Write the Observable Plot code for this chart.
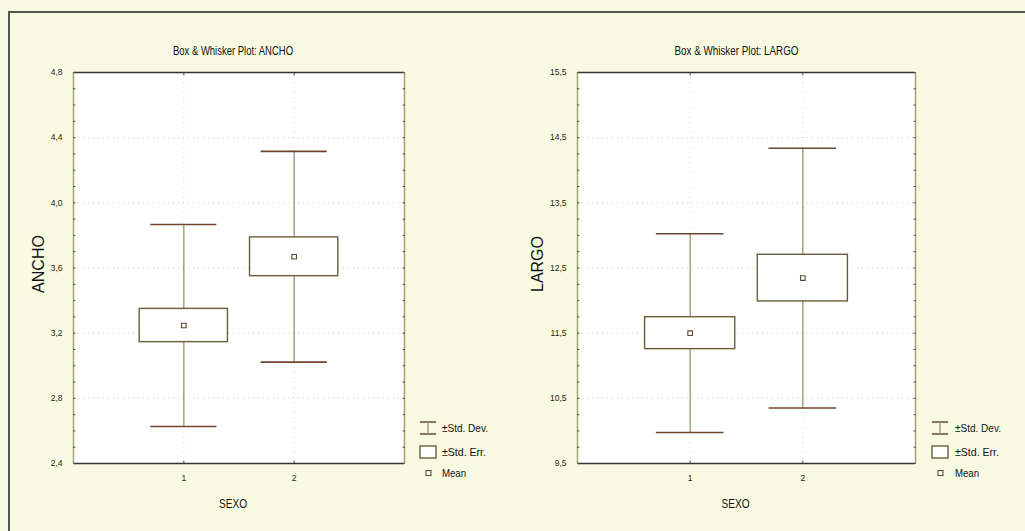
<!DOCTYPE html>
<html>
<head>
<meta charset="utf-8">
<script src="https://cdn.jsdelivr.net/npm/d3@7"></script>
<script src="https://cdn.jsdelivr.net/npm/@observablehq/plot@0.6"></script>
<style>
  html, body { margin: 0; padding: 0; }
  #page { position: relative; width: 1025px; height: 531px; background: #f8fae2; overflow: hidden; }
  #outer { position: absolute; left: 8px; top: 11px; width: 1030px; height: 540px; border-top: 2px solid #555; border-left: 2px solid #555; box-sizing: border-box; }
  .panel { position: absolute; top: 0; }
  .legend { position: absolute; }
</style>
</head>
<body>
<div id="page"><div id="outer"></div></div>
<script>
// ---- data ----
const sexo = [1, 2];
const anchoMean = [3.247, 3.669];
const anchoSE = [0.102, 0.119];
const anchoSD = [0.620, 0.647];
const largoMean = [11.50, 12.345];
const largoSE = [0.245, 0.358];
const largoSD = [1.525, 1.993];
const anchoTicks = [2.4, 2.8, 3.2, 3.6, 4.0, 4.4, 4.8];
const largoTicks = [9.5, 10.5, 11.5, 12.5, 13.5, 14.5, 15.5];
const legendLabels = ["±Std. Dev.", "±Std. Err.", "Mean"];

const narrow = "'Liberation Sans Narrow', 'Arial Narrow', 'Liberation Sans', sans-serif";
const wide = "'Liberation Sans', Arial, sans-serif";
const fmt = d => d.toFixed(1).replace(".", ",");
const stem = "#8e8e60", cap = "#6f4630", boxStroke = "#6c5c3a";

function squeeze(svg, content, len) {
  d3.select(svg).selectAll("text").filter(function () { return this.textContent === content; })
    .attr("textLength", len).attr("lengthAdjust", "spacingAndGlyphs");
}

function panel(opts) {
  const {title, yLabel, means, ses, sds, ticks, left, width, ml, mr, titleDx, sexoDx} = opts;
  const table = sexo.map((s, i) => ({sexo: s, mean: means[i], se: ses[i], sd: sds[i]}));
  const step = (ticks[1] - ticks[0]) / 4;
  const minor = d3.range(0, (ticks.length - 1) * 4 + 1).map(k => ticks[0] + k * step);
  const lo = ticks[0], hi = ticks[ticks.length - 1];
  const plot = Plot.plot({
    width, height: 531,
    marginLeft: ml, marginRight: mr, marginTop: 72, marginBottom: 68,
    style: {background: "transparent", fontFamily: narrow, color: "#222"},
    x: {domain: [0, 3]},
    y: {domain: [lo, hi]},
    marks: [
      Plot.frame({fill: "white", stroke: null}),
      Plot.gridY(ticks.slice(1, -1), {stroke: "#888", strokeOpacity: 0.45, strokeDasharray: "1,4"}),
      Plot.gridX(sexo, {stroke: "#888", strokeOpacity: 0.3, strokeDasharray: "1,4"}),
      Plot.ruleX([0, 3], {stroke: "#a3a36c", strokeWidth: 1.5}),
      Plot.ruleY([lo, hi], {stroke: "#333", strokeWidth: 1.6}),
      Plot.ruleX(table, {x: "sexo", y1: d => d.mean - d.sd, y2: d => d.mean + d.sd, stroke: stem, strokeWidth: 1.2}),
      Plot.ruleY(table, {y: d => d.mean + d.sd, x1: d => d.sexo - 0.3, x2: d => d.sexo + 0.3, stroke: cap, strokeWidth: 1.6}),
      Plot.ruleY(table, {y: d => d.mean - d.sd, x1: d => d.sexo - 0.3, x2: d => d.sexo + 0.3, stroke: cap, strokeWidth: 1.6}),
      Plot.rect(table, {x1: d => d.sexo - 0.4, x2: d => d.sexo + 0.4, y1: d => d.mean - d.se, y2: d => d.mean + d.se, fill: "white", stroke: boxStroke, strokeWidth: 1.4}),
      Plot.dot(table, {x: "sexo", y: "mean", symbol: "square", r: 2.6, stroke: "#5a4a30", fill: "white", strokeWidth: 1.1}),
      Plot.axisY(ticks, {anchor: "left", tickSize: 0, tickPadding: 11, tickFormat: fmt, fontSize: 8.5, label: null}),
      Plot.axisY(minor, {anchor: "left", tickSize: -2.5, tickFormat: () => "", stroke: "#555", label: null}),
      Plot.axisY(minor, {anchor: "right", tickSize: -2.5, tickFormat: () => "", stroke: "#555", label: null}),
      Plot.axisX(sexo, {anchor: "bottom", tickSize: 0, tickPadding: 11, tickFormat: d => String(d), fontSize: 8.5, label: null}),
      Plot.axisX(sexo, {anchor: "bottom", tickSize: -2.5, tickFormat: () => "", stroke: "#555", label: null}),
      Plot.axisX(sexo, {anchor: "top", tickSize: -2.5, tickFormat: () => "", stroke: "#555", label: null}),
      Plot.text([title], {frameAnchor: "top", dy: -26, dx: titleDx, fontSize: 12, fill: "#111", fontFamily: narrow}),
      Plot.text(["SEXO"], {frameAnchor: "bottom", dy: 44, dx: sexoDx, fontSize: 13, fill: "#111", fontFamily: narrow}),
      Plot.text([yLabel], {frameAnchor: "left", textAnchor: "middle", dx: -ml + opts.yLabelX, dy: -4, rotate: -90, fontSize: 16, fill: "#111", fontFamily: wide})
    ]
  });
  squeeze(plot, title, opts.titleLen);
  squeeze(plot, "SEXO", 28);
  const wrap = document.createElement("div");
  wrap.className = "panel";
  wrap.style.left = left + "px";
  wrap.appendChild(plot);
  document.getElementById("page").appendChild(wrap);
}

function legend(x, textX) {
  const div = d3.select("#page").append("div").attr("class", "legend")
    .style("left", (x - 2) + "px").style("top", "415px");
  const svg = div.append("svg").attr("width", 90).attr("height", 70)
    .style("font-family", narrow).style("font-size", "11px");
  const ox = 2, oy = 415;
  const rows = [428, 452, 473].map(y => y - oy);
  const g0 = svg.append("g").attr("fill", "none").attr("stroke", cap).attr("stroke-width", 1.5);
  g0.append("line").attr("x1", ox).attr("x2", ox + 16).attr("y1", rows[0] - 6).attr("y2", rows[0] - 6);
  g0.append("line").attr("x1", ox).attr("x2", ox + 16).attr("y1", rows[0] + 6).attr("y2", rows[0] + 6);
  g0.append("line").attr("x1", ox + 8).attr("x2", ox + 8).attr("y1", rows[0] - 6).attr("y2", rows[0] + 6).attr("stroke", stem).attr("stroke-width", 1.2);
  svg.append("rect").attr("x", ox).attr("y", rows[1] - 6).attr("width", 16).attr("height", 12)
    .attr("fill", "white").attr("stroke", boxStroke).attr("stroke-width", 1.4);
  svg.append("rect").attr("x", ox + 6).attr("y", rows[2] - 2.5).attr("width", 5).attr("height", 5)
    .attr("fill", "white").attr("stroke", "#5a4a30").attr("stroke-width", 1.1);
  const lens = [46, 44, 24];
  legendLabels.forEach((t, i) => {
    svg.append("text").attr("x", textX - x + 2).attr("y", rows[i]).attr("dy", "0.35em")
      .attr("fill", "#111").attr("textLength", lens[i]).attr("lengthAdjust", "spacingAndGlyphs").text(t);
  });
}

panel({title: "Box & Whisker Plot: ANCHO", yLabel: "ANCHO", means: anchoMean, ses: anchoSE, sds: anchoSD,
  ticks: anchoTicks, left: 0, width: 512, ml: 73, mr: 108, titleDx: -6, sexoDx: -6, yLabelX: 38, titleLen: 120});
panel({title: "Box & Whisker Plot: LARGO", yLabel: "LARGO", means: largoMean, ses: largoSE, sds: largoSD,
  ticks: largoTicks, left: 512, width: 513, ml: 65, mr: 110, titleDx: -10, sexoDx: -11, yLabelX: 25, titleLen: 124});
legend(420, 442);
legend(932, 955);
</script>
</body>
</html>
